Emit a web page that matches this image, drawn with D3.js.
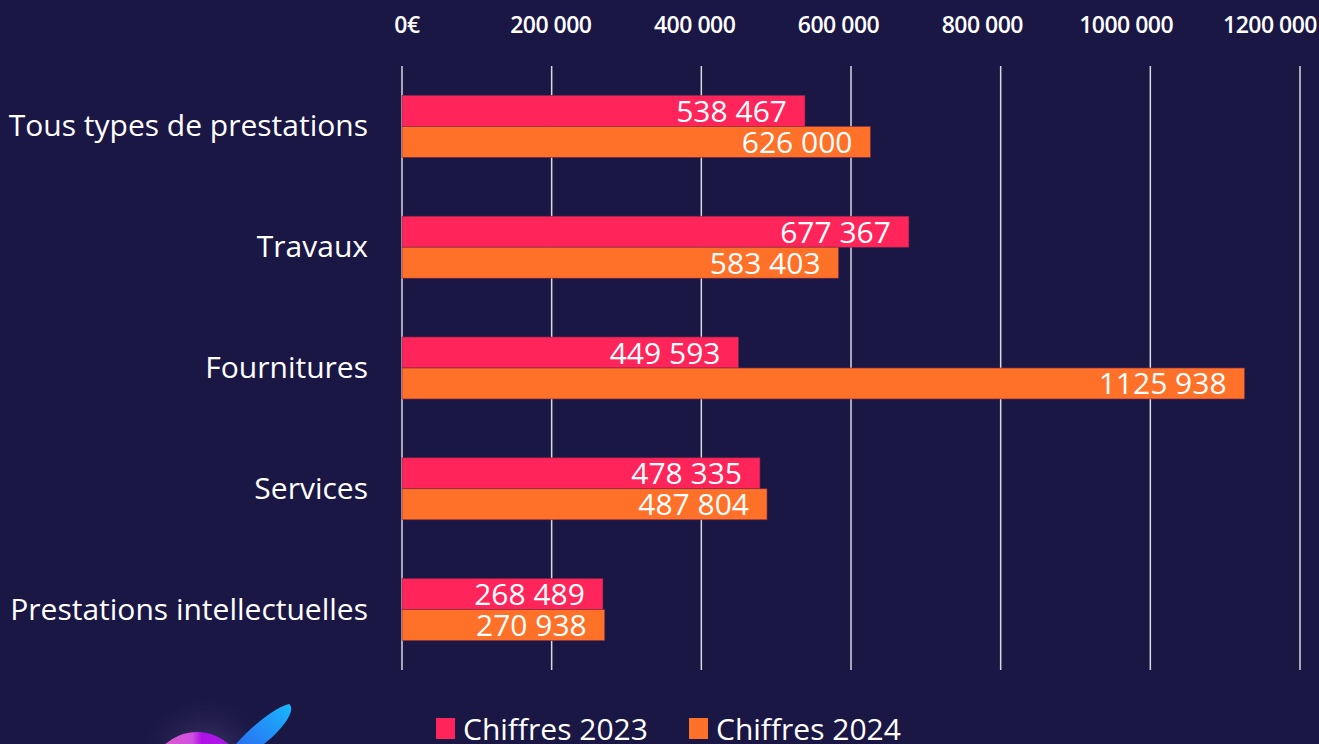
<!DOCTYPE html>
<html>
<head>
<meta charset="utf-8">
<script src="https://cdn.jsdelivr.net/npm/d3@7"></script>
<style>
  html, body { margin: 0; padding: 0; background: #1b1745; overflow: hidden; }
  svg { display: block; }
  text { font-family: "Open Sans", "Noto Sans", sans-serif; fill: #fff; }
</style>
</head>
<body>
<div id="chart"></div>
<script>
// data
const categories = ['Tous types de prestations', 'Travaux', 'Fournitures', 'Services', 'Prestations intellectuelles'];
const series = ['Chiffres 2023', 'Chiffres 2024'];
const values2023 = [538467, 677367, 449593, 478335, 268489];
const values2024 = [626000, 583403, 1125938, 487804, 270938];
const tickValues = [0, 200000, 400000, 600000, 800000, 1000000, 1200000];
const tickLabels = ['0€', '200 000', '400 000', '600 000', '800 000', '1000 000', '1200 000'];
const colors = ['#ff2459', '#ff7028'];

const W = 1319, H = 744;

const svg = d3.select('#chart').append('svg')
    .attr('width', W)
    .attr('height', H);

// scales
const x = d3.scaleLinear().domain([0, 1200000]).range([402, 1300]);
// tick labels sit a bit left of their gridlines in the original
const xLabel = d3.scaleLinear().domain([0, 1200000]).range([407, 1270]);
const y = d3.scaleBand().domain(categories).range([66, 670])
    .paddingInner(0.487).paddingOuter(0.2435);
const ySub = d3.scaleBand().domain(series).range([0, y.bandwidth()]);

// only the last group of three digits is separated ("1125 938")
const fmt = v => v >= 1000
    ? Math.floor(v / 1000) + ' ' + String(v % 1000).padStart(3, '0')
    : String(v);

// gridlines
svg.append('g').attr('class', 'grid')
    .selectAll('line')
    .data(tickValues)
    .join('line')
    .attr('x1', d => x(d)).attr('x2', d => x(d))
    .attr('y1', 66).attr('y2', 670)
    .attr('stroke', '#d9d9d9')
    .attr('stroke-width', 1.5);

// top tick labels
svg.append('g').attr('class', 'ticks')
    .selectAll('text')
    .data(tickValues)
    .join('text')
    .attr('x', d => xLabel(d))
    .attr('y', 33)
    .attr('text-anchor', 'middle')
    .attr('font-size', 23)
    .attr('font-weight', 600)
    .attr('letter-spacing', -0.5)
    .text((d, i) => tickLabels[i]);

// category labels
svg.append('g').attr('class', 'cats')
    .selectAll('text')
    .data(categories)
    .join('text')
    .attr('x', 368)
    .attr('y', d => y(d) + y.bandwidth() / 2 + 10)
    .attr('text-anchor', 'end')
    .attr('font-size', 30)
    .text(d => d);

// bars
const rows = categories.map((c, i) => ({ cat: c, vals: [values2023[i], values2024[i]] }));
const groups = svg.append('g').attr('class', 'bars')
    .selectAll('g')
    .data(rows)
    .join('g')
    .attr('transform', d => 'translate(0,' + y(d.cat) + ')');

groups.selectAll('rect')
    .data(d => d.vals.map((v, i) => ({ s: series[i], v: v, i: i })))
    .join('rect')
    .attr('x', x(0))
    .attr('y', d => ySub(d.s))
    .attr('width', d => x(d.v) - x(0))
    .attr('height', ySub.bandwidth())
    .attr('fill', d => colors[d.i])
    .attr('stroke', '#7a2a4a')
    .attr('stroke-width', 0.6);

groups.selectAll('text')
    .data(d => d.vals.map((v, i) => ({ s: series[i], v: v, i: i })))
    .join('text')
    .attr('x', d => x(d.v) - 18)
    .attr('y', d => ySub(d.s) + ySub.bandwidth() / 2 + 11)
    .attr('text-anchor', 'end')
    .attr('font-size', 30)
    .text(d => fmt(d.v));

// legend
const legend = svg.append('g').attr('class', 'legend');
const legendX = [436, 689];
series.forEach((s, i) => {
    legend.append('rect')
        .attr('x', legendX[i]).attr('y', 718)
        .attr('width', 19).attr('height', 21)
        .attr('fill', colors[i]);
    legend.append('text')
        .attr('x', legendX[i] + 27).attr('y', 740)
        .attr('font-size', 30)
        .text(s);
});

// logo fragment, bottom left
const defs = svg.append('defs');
const glow = defs.append('radialGradient').attr('id', 'glow');
glow.append('stop').attr('offset', '0%').attr('stop-color', '#7a6aa8').attr('stop-opacity', 0.55);
glow.append('stop').attr('offset', '100%').attr('stop-color', '#1b1745').attr('stop-opacity', 0);
const planet = defs.append('linearGradient').attr('id', 'planet')
    .attr('x1', '0%').attr('y1', '0%').attr('x2', '100%').attr('y2', '0%');
planet.append('stop').attr('offset', '0%').attr('stop-color', '#e060c0');
planet.append('stop').attr('offset', '45%').attr('stop-color', '#d050e0');
planet.append('stop').attr('offset', '55%').attr('stop-color', '#b010e8');
planet.append('stop').attr('offset', '100%').attr('stop-color', '#a020e0');
const swoosh = defs.append('linearGradient').attr('id', 'swoosh')
    .attr('x1', '100%').attr('y1', '0%').attr('x2', '0%').attr('y2', '100%');
swoosh.append('stop').attr('offset', '0%').attr('stop-color', '#18b8ff');
swoosh.append('stop').attr('offset', '100%').attr('stop-color', '#2a70f0');

const logo = svg.append('g').attr('class', 'logo');
logo.append('circle').attr('cx', 205).attr('cy', 762).attr('r', 70).attr('fill', 'url(#glow)');
logo.append('circle').attr('cx', 197).attr('cy', 780).attr('r', 48).attr('fill', 'url(#planet)');
logo.append('path')
    .attr('d', 'M236,744 C252,726 274,708 289,704 C297,710 282,730 264,744 Z')
    .attr('fill', 'url(#swoosh)');
</script>
</body>
</html>
